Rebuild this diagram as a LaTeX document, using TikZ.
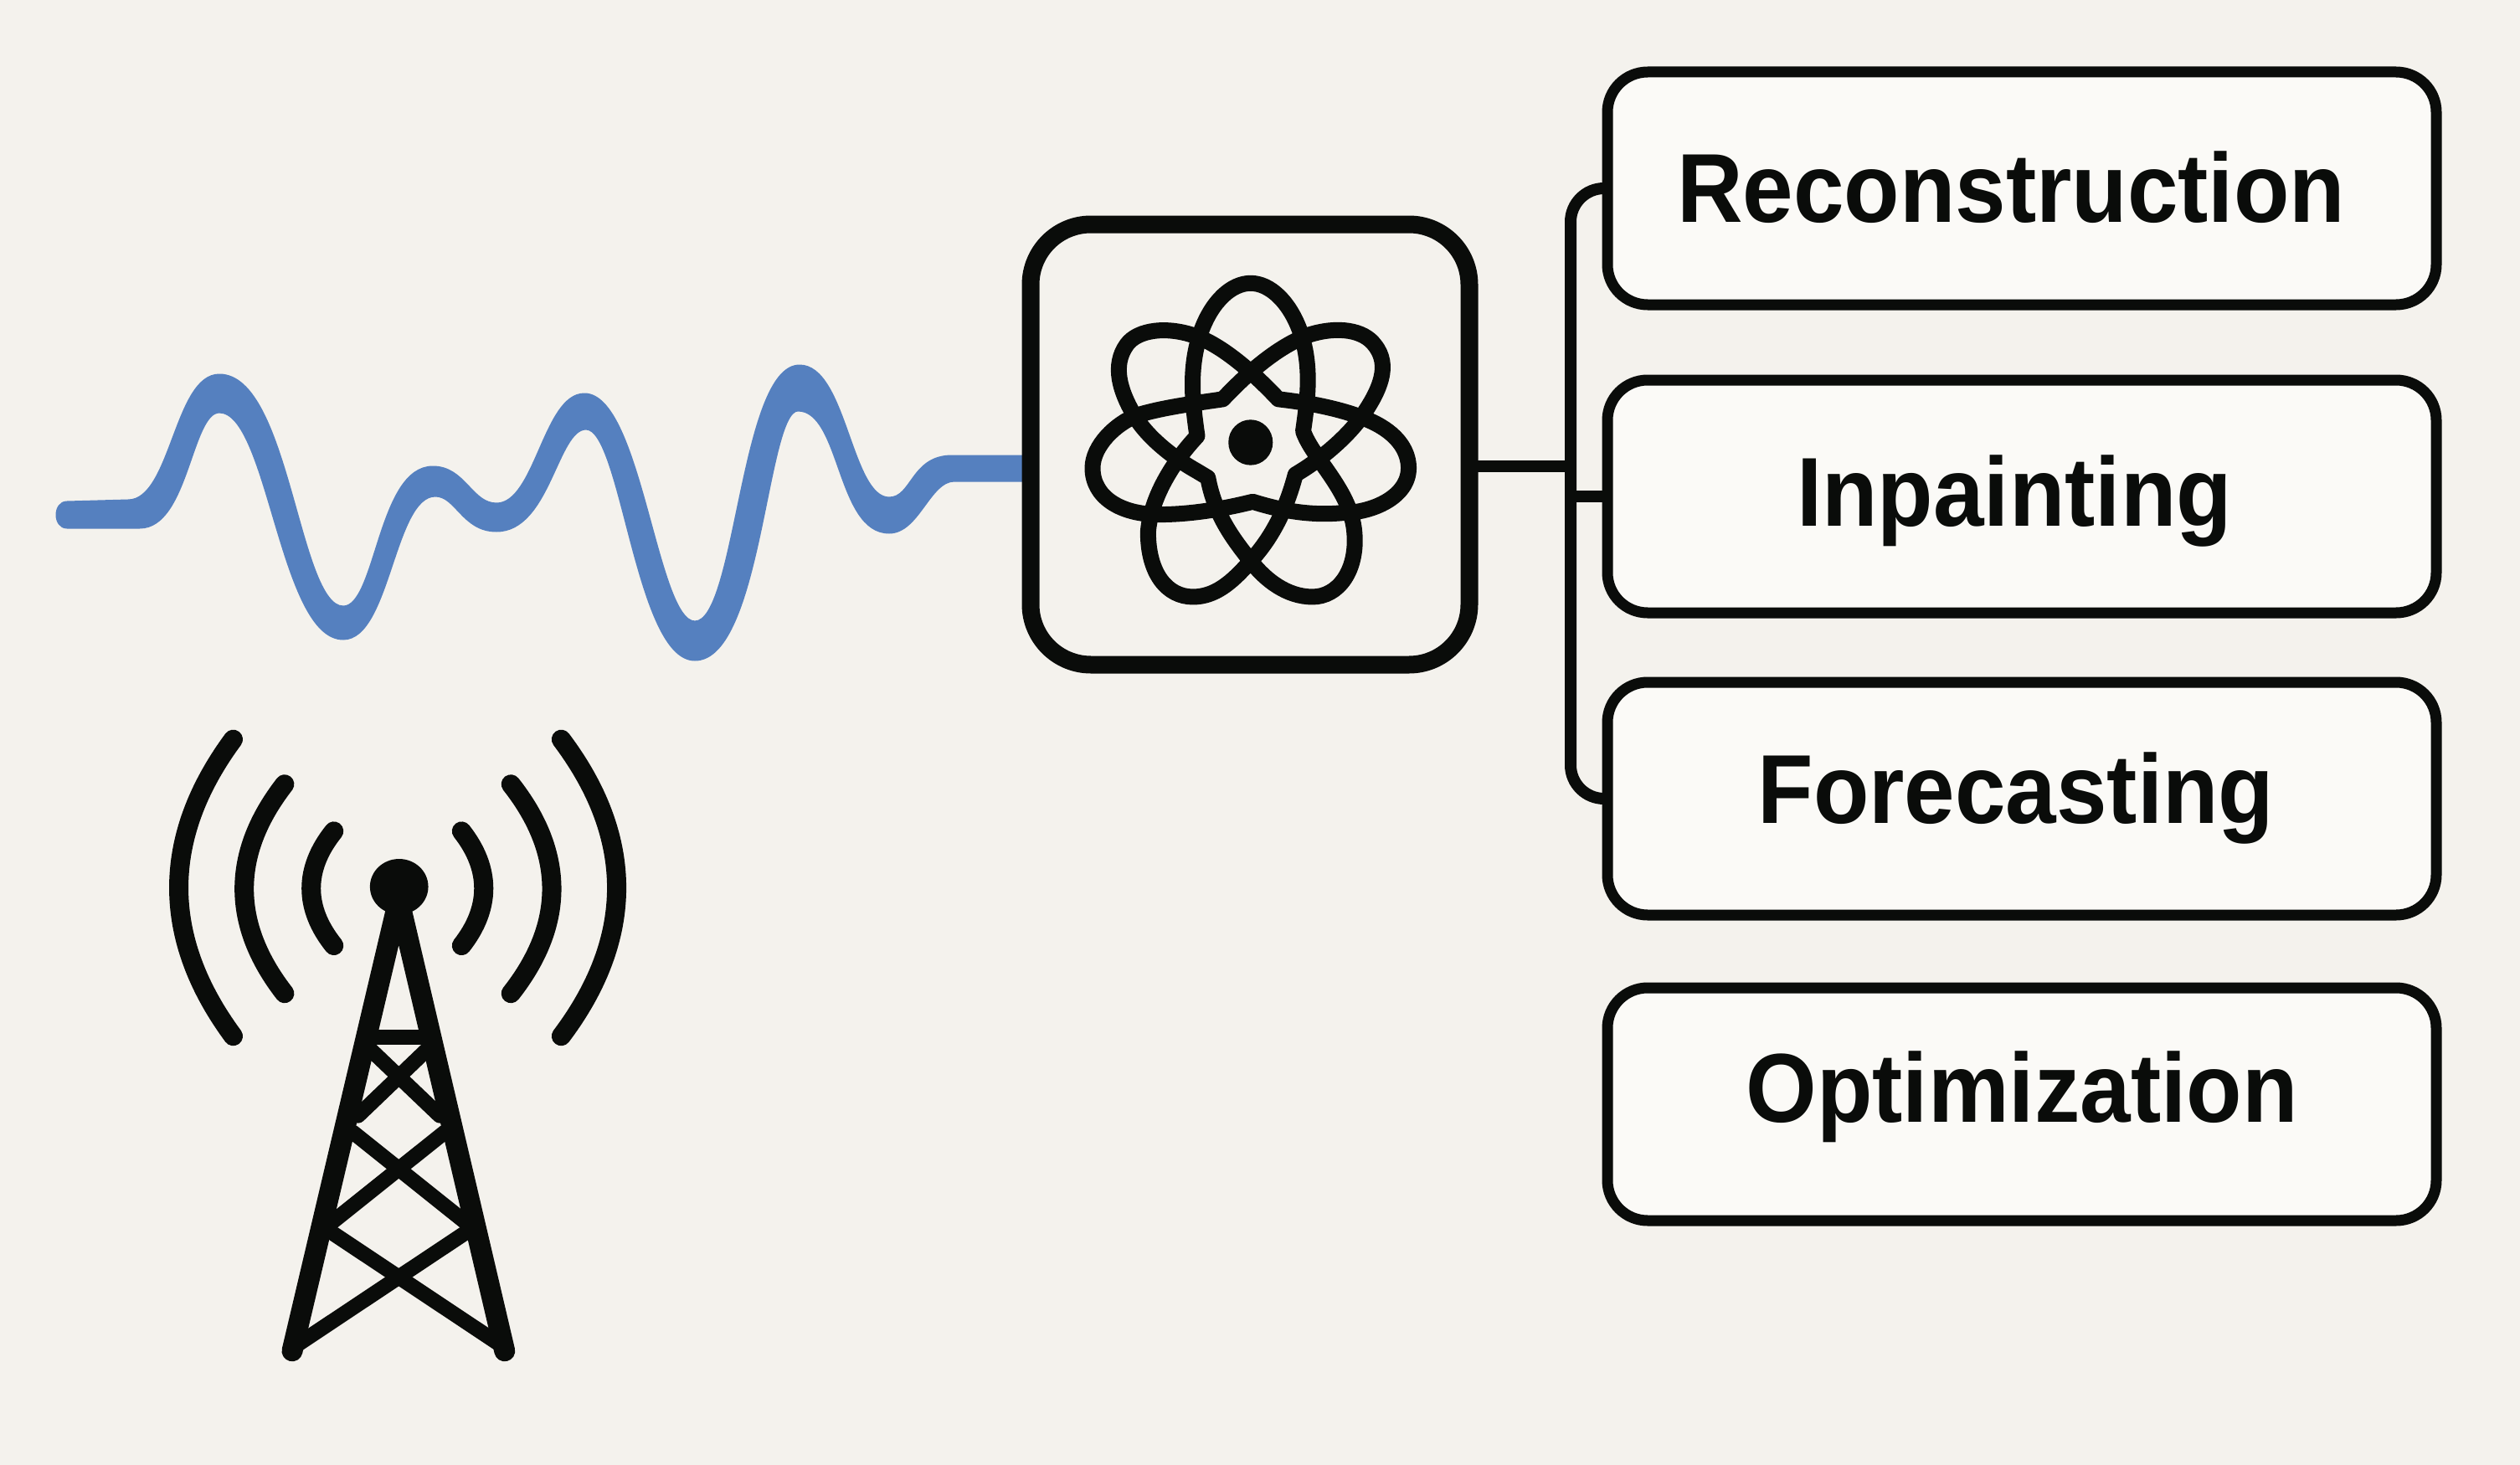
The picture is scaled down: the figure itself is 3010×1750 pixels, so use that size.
\documentclass[tikz,border=0pt]{standalone}
\usepackage{fontspec}
\setmainfont{Liberation Sans}[FakeStretch=0.93]
\definecolor{paper}{HTML}{F4F2ED}
\definecolor{boxfill}{HTML}{FBFAF7}
\definecolor{ink}{HTML}{0A0C0A}
\definecolor{signal}{HTML}{5580BF}
\tikzset{
  taskbox/.style={draw=ink,fill=boxfill,line width=6.5pt,rounded corners=24pt,outer sep=0pt,
    minimum width=495pt,minimum height=139pt,inner sep=0pt,text height=45pt,
    font=\fontsize{58.5}{60}\selectfont\bfseries,text=ink},
  hubbox/.style={draw=ink,fill=paper,line width=10.5pt,rounded corners=36pt,outer sep=0pt,
    minimum width=262pt,minimum height=263pt},
  busline/.style={draw=ink,line width=7pt},
  atomline/.style={draw=ink,line width=9.5pt,line cap=round,line join=round},
  radioline/.style={draw=ink,line width=11.5pt,line cap=round},
  legline/.style={draw=ink,line width=12.5pt,line cap=round,line join=round},
  braceline/.style={draw=ink,line width=9pt,line cap=round}
}
\begin{document}
\begin{tikzpicture}[x=0.5pt,y=-0.5pt]
\fill[paper] (0,0) rectangle (3010,1750);
\filldraw[signal,line width=1.5pt,line join=round] (153,598) .. controls (205,598) and (209,448) .. (262,448)
  .. controls (345,448) and (356,725) .. (410,725) .. controls (450,725) and (452,558) .. (517,558)
  .. controls (555,558) and (563,602) .. (593,602) .. controls (640,602) and (650,471) .. (698,471)
  .. controls (765,471) and (784,743) .. (830,743) .. controls (880,743) and (885,437) .. (955,437)
  .. controls (1010,437) and (1016,595) .. (1062,595) .. controls (1090,595) and (1089,545) .. (1137,545)
  -- (1232,545) -- (1232,574) -- (1140,574)
  .. controls (1110,574) and (1097,636) .. (1062,636) .. controls (1000,636) and (1005,490) .. (953,490)
  .. controls (915,490) and (909,788) .. (830,788) .. controls (760,788) and (743,512) .. (700,512)
  .. controls (665,512) and (656,634) .. (593,634) .. controls (553,634) and (545,592) .. (520,592)
  .. controls (470,592) and (465,763) .. (410,763) .. controls (335,763) and (321,492) .. (262,492)
  .. controls (228,492) and (224,630) .. (167,630)
  -- (80,630) .. controls (64,630) and (64,600) .. (80,600) -- cycle;
\node[hubbox] (hub) at (1493,531) {};
\begin{scope}[shift={(1180,230)},x=0.2551pt,y=-0.19135pt] % start of atom scope
\draw[atomline] (490,760) .. controls (478,650) and (470,540) .. (500,430)
  .. controls (525,340) and (570,283) .. (615,283) .. controls (660,283) and (705,340) .. (730,430)
  .. controls (760,540) and (748,650) .. (738,745)
  .. controls (760,830) and (850,930) .. (858,1060) .. controls (866,1180) and (820,1262) .. (760,1262)
  .. controls (700,1262) and (650,1210) .. (615,1150) .. controls (570,1075) and (530,1000) .. (515,890)
  -- (490,870) .. controls (430,825) and (370,760) .. (340,690) .. controls (310,620) and (290,540) .. (325,475)
  .. controls (350,428) and (420,415) .. (490,450) .. controls (550,480) and (620,560) .. (680,645)
  .. controls (780,660) and (870,690) .. (920,730) .. controls (970,770) and (985,820) .. (985,860)
  .. controls (985,950) and (900,1000) .. (830,1000) .. controls (750,1010) and (680,990) .. (620,965)
  .. controls (560,985) and (480,1005) .. (400,1005) .. controls (310,1005) and (245,950) .. (245,860)
  .. controls (245,790) and (300,720) .. (350,695) .. controls (410,670) and (500,655) .. (550,645)
  .. controls (610,560) and (680,480) .. (750,445) .. controls (820,415) and (880,430) .. (905,475)
  .. controls (945,540) and (915,620) .. (880,690) .. controls (850,750) and (790,825) .. (720,880)
  .. controls (700,980) and (670,1070) .. (615,1150) .. controls (570,1220) and (530,1262) .. (480,1262)
  .. controls (420,1262) and (375,1190) .. (375,1060) .. controls (380,970) and (420,860) .. (490,760) -- cycle;
\fill[ink] (615,780) ellipse [x radius=52,y radius=71];
\end{scope}                      % end of atom scope
\begin{scope}[shift={(150,850)},x=0.2073pt,y=-0.2551pt] % start of tower scope
\draw[radioline] (310,65) .. controls (101,295) and (101,530) .. (310,760);
\draw[radioline] (458,170) .. controls (303,332) and (303,498) .. (458,660);
\draw[radioline] (600,280) .. controls (513,368) and (513,460) .. (600,548);
\draw[radioline] (1255,65) .. controls (1468,295) and (1468,530) .. (1255,760);
\draw[radioline] (1110,170) .. controls (1267,332) and (1267,498) .. (1110,660);
\draw[radioline] (968,280) .. controls (1053,368) and (1053,460) .. (968,548);
\draw[legline] (480,1497) -- (787,440) -- (1092,1497);
\draw[braceline] (705,762) -- (870,762);
\draw[braceline] (700,787) -- (905,946);
\draw[braceline] (874,787) -- (670,946);
\draw[braceline] (655,985) -- (975,1193);
\draw[braceline] (919,985) -- (599,1193);
\draw[braceline] (600,1223) -- (1075,1480);
\draw[braceline] (974,1223) -- (499,1480);
\fill[ink] (788,410) ellipse [x radius=84,y radius=65];
\end{scope}                      % end of tower scope
\node[taskbox,text depth=5pt] (recon) at (2415,225) {Reconstruction\hspace*{13pt}};
\node[taskbox,text depth=10pt] (inpaint) at (2415,593) {Inpainting\hspace*{9pt}};
\node[taskbox,text depth=16pt] (forecast) at (2415,954) {Forecasting\hspace*{7pt}};
\node[taskbox,text depth=24pt] (optim) at (2415,1319) {Optimization};
\coordinate (busjoin) at (1876,557);
\draw[busline] (hub.east |- busjoin) -- (busjoin);
\draw[busline] (inpaint.west) -- (inpaint.west -| busjoin);
\draw[busline,rounded corners=20pt] (recon.west) -| (busjoin) |- (forecast.west);
\end{tikzpicture}
\end{document}
